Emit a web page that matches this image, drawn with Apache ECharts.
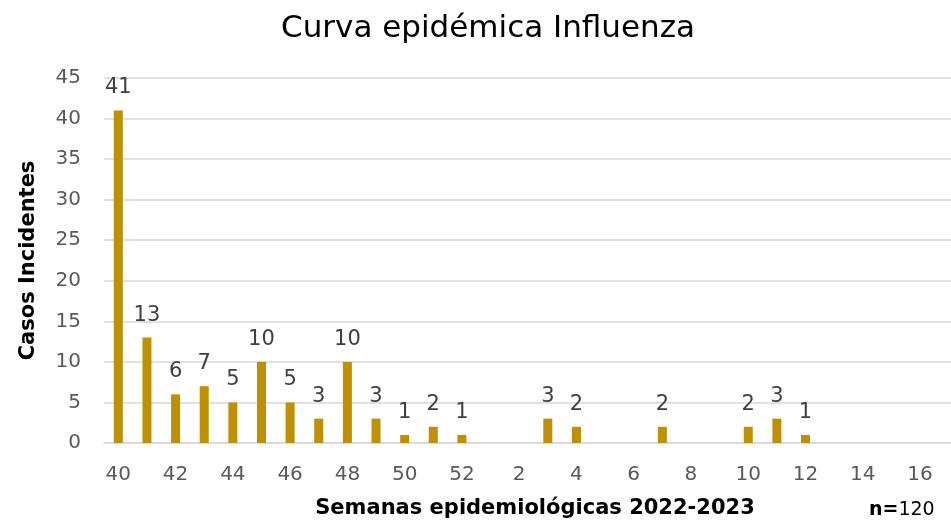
<!DOCTYPE html>
<html>
<head>
<meta charset="utf-8">
<script src="https://cdn.jsdelivr.net/npm/echarts@6/dist/echarts.min.js"></script>
<style>
  html, body { margin: 0; padding: 0; background: #fff; }
  #chart { width: 951px; height: 524px; }
</style>
</head>
<body>
<div id="chart"></div>
<script>
// semanas epidemiológicas 40-52 (2022) y 1-17 (2023)
const semanas = ['40','41','42','43','44','45','46','47','48','49','50','51','52',
  '1','2','3','4','5','6','7','8','9','10','11','12','13','14','15','16','17'];
const casos = [41, 13, 6, 7, 5, 10, 5, 3, 10, 3, 1, 2, 1,
  0, 0, 3, 2, 0, 0, 2, 0, 0, 2, 3, 1, 0, 0, 0, 0, 0];
const totalCasos = 120;

const fuente = 'DejaVu Sans';
const chart = echarts.init(document.getElementById('chart'));

const option = {
  backgroundColor: '#fff',
  textStyle: { fontFamily: fuente },
  title: {
    text: 'Curva epidémica Influenza',
    left: 276,
    top: 8,
    textStyle: { fontFamily: fuente, fontSize: 31, fontWeight: 'normal', color: '#000' }
  },
  graphic: [
    {
      type: 'text',
      x: 535, y: 509,
      style: {
        text: 'Semanas epidemiológicas 2022-2023',
        fontFamily: fuente, fontSize: 21, fontWeight: 'bold', fill: '#000',
        align: 'center', verticalAlign: 'middle'
      }
    },
    {
      type: 'text',
      x: 869, y: 510,
      style: {
        text: '{b|n=}{r|' + totalCasos + '}',
        verticalAlign: 'middle',
        rich: {
          b: { fontFamily: fuente, fontSize: 19, fontWeight: 'bold', fill: '#000' },
          r: { fontFamily: fuente, fontSize: 19, fill: '#000' }
        }
      }
    }
  ],
  // la semana 17 queda fuera del lienzo, como en el original
  grid: { left: 104, width: 859, top: 78, height: 365, outerBoundsMode: 'none', containLabel: false },
  xAxis: {
    type: 'category',
    data: semanas,
    axisLine: { show: true, lineStyle: { color: '#d9d9d9', width: 1.5 } },
    axisTick: { show: false },
    axisLabel: { interval: 1, color: '#595959', fontSize: 20, margin: 22, fontFamily: fuente }
  },
  yAxis: {
    type: 'value',
    min: 0, max: 45, interval: 5,
    name: 'Casos Incidentes',
    nameLocation: 'middle',
    nameGap: 65,
    nameTextStyle: { fontFamily: fuente, fontSize: 21, fontWeight: 'bold', color: '#000' },
    axisLine: { show: false },
    axisTick: { show: false },
    splitLine: { lineStyle: { color: '#d9d9d9', width: 1.5 } },
    axisLabel: { color: '#595959', fontSize: 20, margin: 23, fontFamily: fuente }
  },
  series: [{
    type: 'bar',
    data: casos,
    barWidth: 9,
    itemStyle: { color: '#BF9000' },
    label: {
      show: true,
      position: 'top',
      distance: 12,
      color: '#404040',
      fontSize: 21,
      fontFamily: fuente,
      formatter: p => (p.value > 0 ? p.value : '')
    }
  }]
};
chart.setOption(option);
</script>
</body>
</html>
